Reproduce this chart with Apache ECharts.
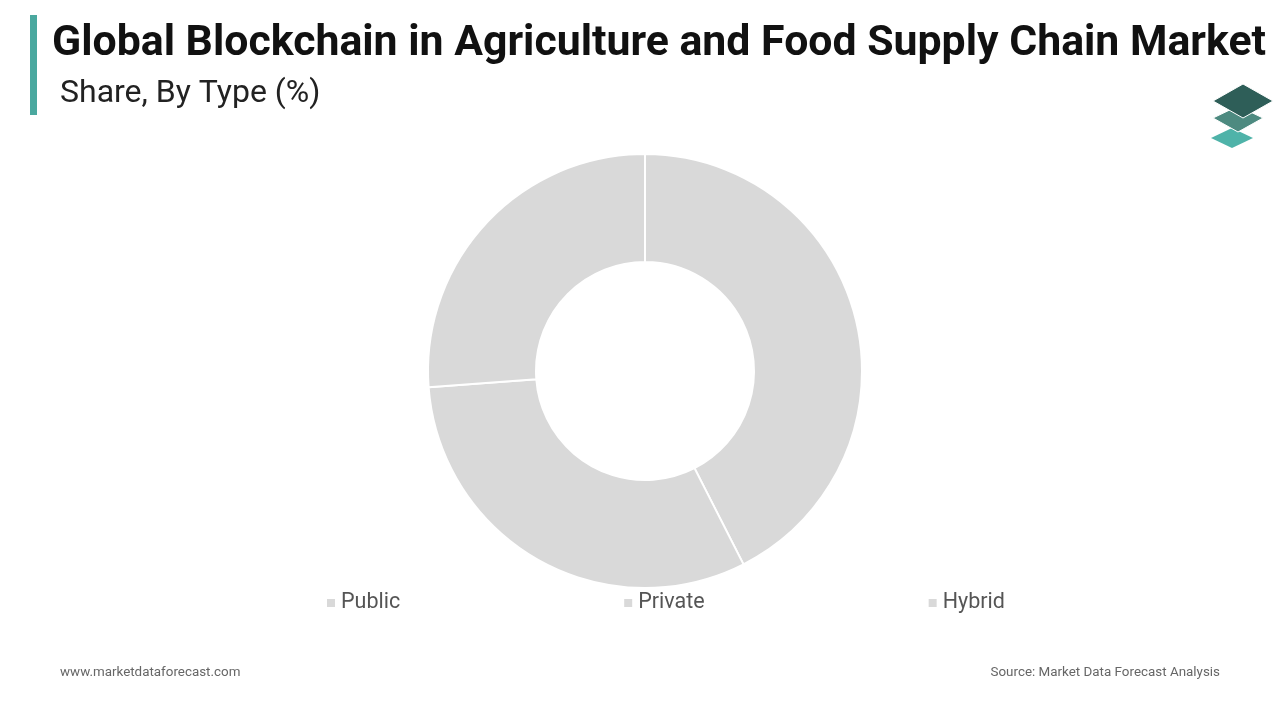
<!DOCTYPE html>
<html><head><meta charset="utf-8">
<script src="https://cdn.jsdelivr.net/npm/echarts@6/dist/echarts.min.js"></script>
<style>html,body{margin:0;padding:0;background:#fff}#c{width:1280px;height:720px}</style>
</head><body><div id="c"></div>
<script>
const categories = ['Public', 'Private', 'Hybrid'];
const shares = [42.5, 31.3, 26.2];

const chart = echarts.init(document.getElementById('c'));
chart.setOption({
  animation: false,
  backgroundColor: '#fff',
  title: [
    {text: 'Global Blockchain in Agriculture and Food Supply Chain Market', left: 47, top: 18,
     textStyle: {fontFamily: 'Roboto', fontWeight: 'bold', fontSize: 42.8, color: '#111'}},
    {text: 'Share, By Type (%)', left: 55, top: 73,
     textStyle: {fontFamily: 'Roboto', fontWeight: 'normal', fontSize: 32, color: '#222'}},
    {text: 'www.marketdataforecast.com', left: 55, top: 661,
     textStyle: {fontFamily: 'Roboto', fontWeight: 'normal', fontSize: 13.4, color: '#666'}},
    {text: 'Source: Market Data Forecast Analysis', right: 55, top: 661,
     textStyle: {fontFamily: 'Roboto', fontWeight: 'normal', fontSize: 13.4, color: '#666'}}
  ],
  legend: {
    data: categories, left: 320, top: 587, itemGap: 222, itemWidth: 10, itemHeight: 10, icon: 'rect',
    textStyle: {fontFamily: 'Roboto', fontSize: 21.5, color: '#555'}
  },
  graphic: [
    {type: 'rect', shape: {x: 30, y: 15, width: 7, height: 100}, style: {fill: '#4aa89f'}},
    {type: 'polygon', shape: {points: [[1232,128],[1253,138],[1232,148],[1211,138]]}, style: {fill: '#4fb3a9'}},
    {type: 'polygon', shape: {points: [[1238,106],[1263,118],[1238,132],[1213,118]]}, style: {fill: '#4d8a80', stroke: '#fff', lineWidth: 1}},
    {type: 'polygon', shape: {points: [[1243,84],[1273,101],[1243,118],[1213,101]]}, style: {fill: '#2e5e58', stroke: '#fff', lineWidth: 1}}
  ],
  series: [{
    type: 'pie', center: [645, 371], radius: [109, 217], startAngle: 90, clockwise: true,
    label: {show: false}, labelLine: {show: false},
    itemStyle: {color: '#d9d9d9', borderColor: '#fff', borderWidth: 2},
    emphasis: {disabled: true},
    data: categories.map((n, i) => ({name: n, value: shares[i]}))
  }]
});
</script></body></html>
